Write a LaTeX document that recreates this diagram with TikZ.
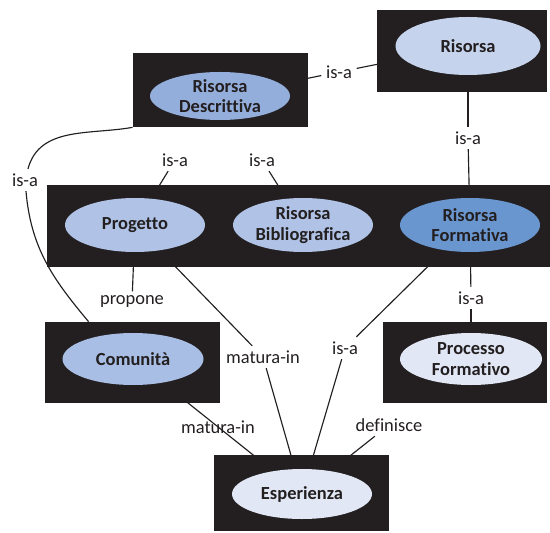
\documentclass[tikz,border=0pt]{standalone}
\usepackage{fontspec}
\setmainfont{Carlito}[Ligatures={NoCommon}]
\usetikzlibrary{shapes.geometric,backgrounds,calc}
\definecolor{boxblk}{HTML}{231F20}
\definecolor{cRis}{HTML}{C6D3EC}
\definecolor{cDesc}{HTML}{94AEDC}
\definecolor{cProg}{HTML}{B0C3E6}
\definecolor{cForm}{HTML}{6A96CF}
\definecolor{cCom}{HTML}{A9BEE4}
\definecolor{cLight}{HTML}{E1E7F4}
\newcommand{\pxu}{0.02cm}
\tikzset{frame/.style={fill=boxblk, inner sep=0pt},
  term/.style={ellipse, fill=#1, text=boxblk, inner sep=0pt, align=center,
    font=\bfseries\fontsize{10.5}{11.5}\selectfont,
    minimum width=140*\pxu, minimum height=54*\pxu},
  term/.default=white,
  rel/.style={text=boxblk, inner sep=2.5pt, font=\fontsize{10.5}{12}\selectfont},
  link/.style={draw=boxblk, line width=0.65pt}}

\begin{document}
\begin{tikzpicture}[x=0.02cm, y=-0.02cm]
	\useasboundingbox (0,0) rectangle (550,533);
	% black frames
	\node[frame, minimum width=170*\pxu, minimum height=82*\pxu] (risB) at (462,51) {};
	\node[frame, minimum width=175*\pxu, minimum height=74*\pxu] (descB) at (220.5,90) {};
	\node[frame, minimum width=503*\pxu, minimum height=82*\pxu] (midB) at (298.5,226) {};
	\node[frame, minimum width=175*\pxu, minimum height=81*\pxu] (comB) at (132.5,362.5) {};
	\node[frame, minimum width=164*\pxu, minimum height=81*\pxu] (proB) at (465,362.5) {};
	\node[frame, minimum width=175*\pxu, minimum height=76*\pxu] (espB) at (301.5,493) {};
	% concepts
	\node[term=cRis, minimum width=145*\pxu, minimum height=58*\pxu] (ris) at (468,46) {Risorsa};
	\node[term=cDesc, minimum height=48*\pxu] (desc) at (220,96) {Risorsa\\Descrittiva};
	\node[term=cProg] (prog) at (135,225) {Progetto};
	\node[term=cProg] (bib) at (303,225) {Risorsa\\Bibliografica};
	\node[term=cForm] (form) at (470,225) {Risorsa\\Formativa};
	\node[term=cCom, minimum width=141*\pxu, minimum height=52*\pxu] (com) at (133,359) {Comunità};
	\node[term=cLight, minimum width=142*\pxu, minimum height=52*\pxu] (pro) at (471,359) {Processo\\Formativo};
	\node[term=cLight, minimum height=50*\pxu] (esp) at (302,494) {Esperienza};
	% relation labels
	\node[rel] (isa1) at (339,72) {is-a};
	\node[rel] (isa2) at (468,138) {is-a};
	\node[rel] (isa3) at (25,180) {is-a};
	\node[rel] (isa4) at (175,160) {is-a};
	\node[rel] (isa5) at (262,160) {is-a};
	\node[rel] (prop) at (132,302) {propone};
	\node[rel] (mat1) at (263,357) {matura-in};
	\node[rel] (isa6) at (345,348) {is-a};
	\node[rel] (isa7) at (471,298) {is-a};
	\node[rel] (def) at (389,425) {definisce};
	% connectors, kept under the frames
	\begin{scope}[on background layer]
		\draw[link] (desc) -- (isa1);
		\draw[link] (isa1) -- (ris);
		\draw[link] (ris) -- (isa2);
		\draw[link] (isa2) -- (form);
		\draw[link] (isa3) to[out=75, in=190] (descB.south west);
		\draw[link] (isa3) to[out=-85, in=130] ($(comB.north west)!0.25!(comB.north east)$);
		\draw[link] (isa4) -- (prog);
		\draw[link] (isa5) -- (bib);
		\draw[link] (prop) -- (prog);
		\draw[link] (mat1) -- (prog);
		\draw[link] (mat1) -- (esp);
		\draw[link] (isa6) -- (form);
		\draw[link] (isa6) -- (esp);
		\draw[link] (isa7) -- (form);
		\draw[link] (isa7) -- (pro);
		\draw[link] (def) -- (esp);
		\draw[link] (com) -- node[rel] (mat2) {matura-in} (esp);
	\end{scope}
\end{tikzpicture}
\end{document}
